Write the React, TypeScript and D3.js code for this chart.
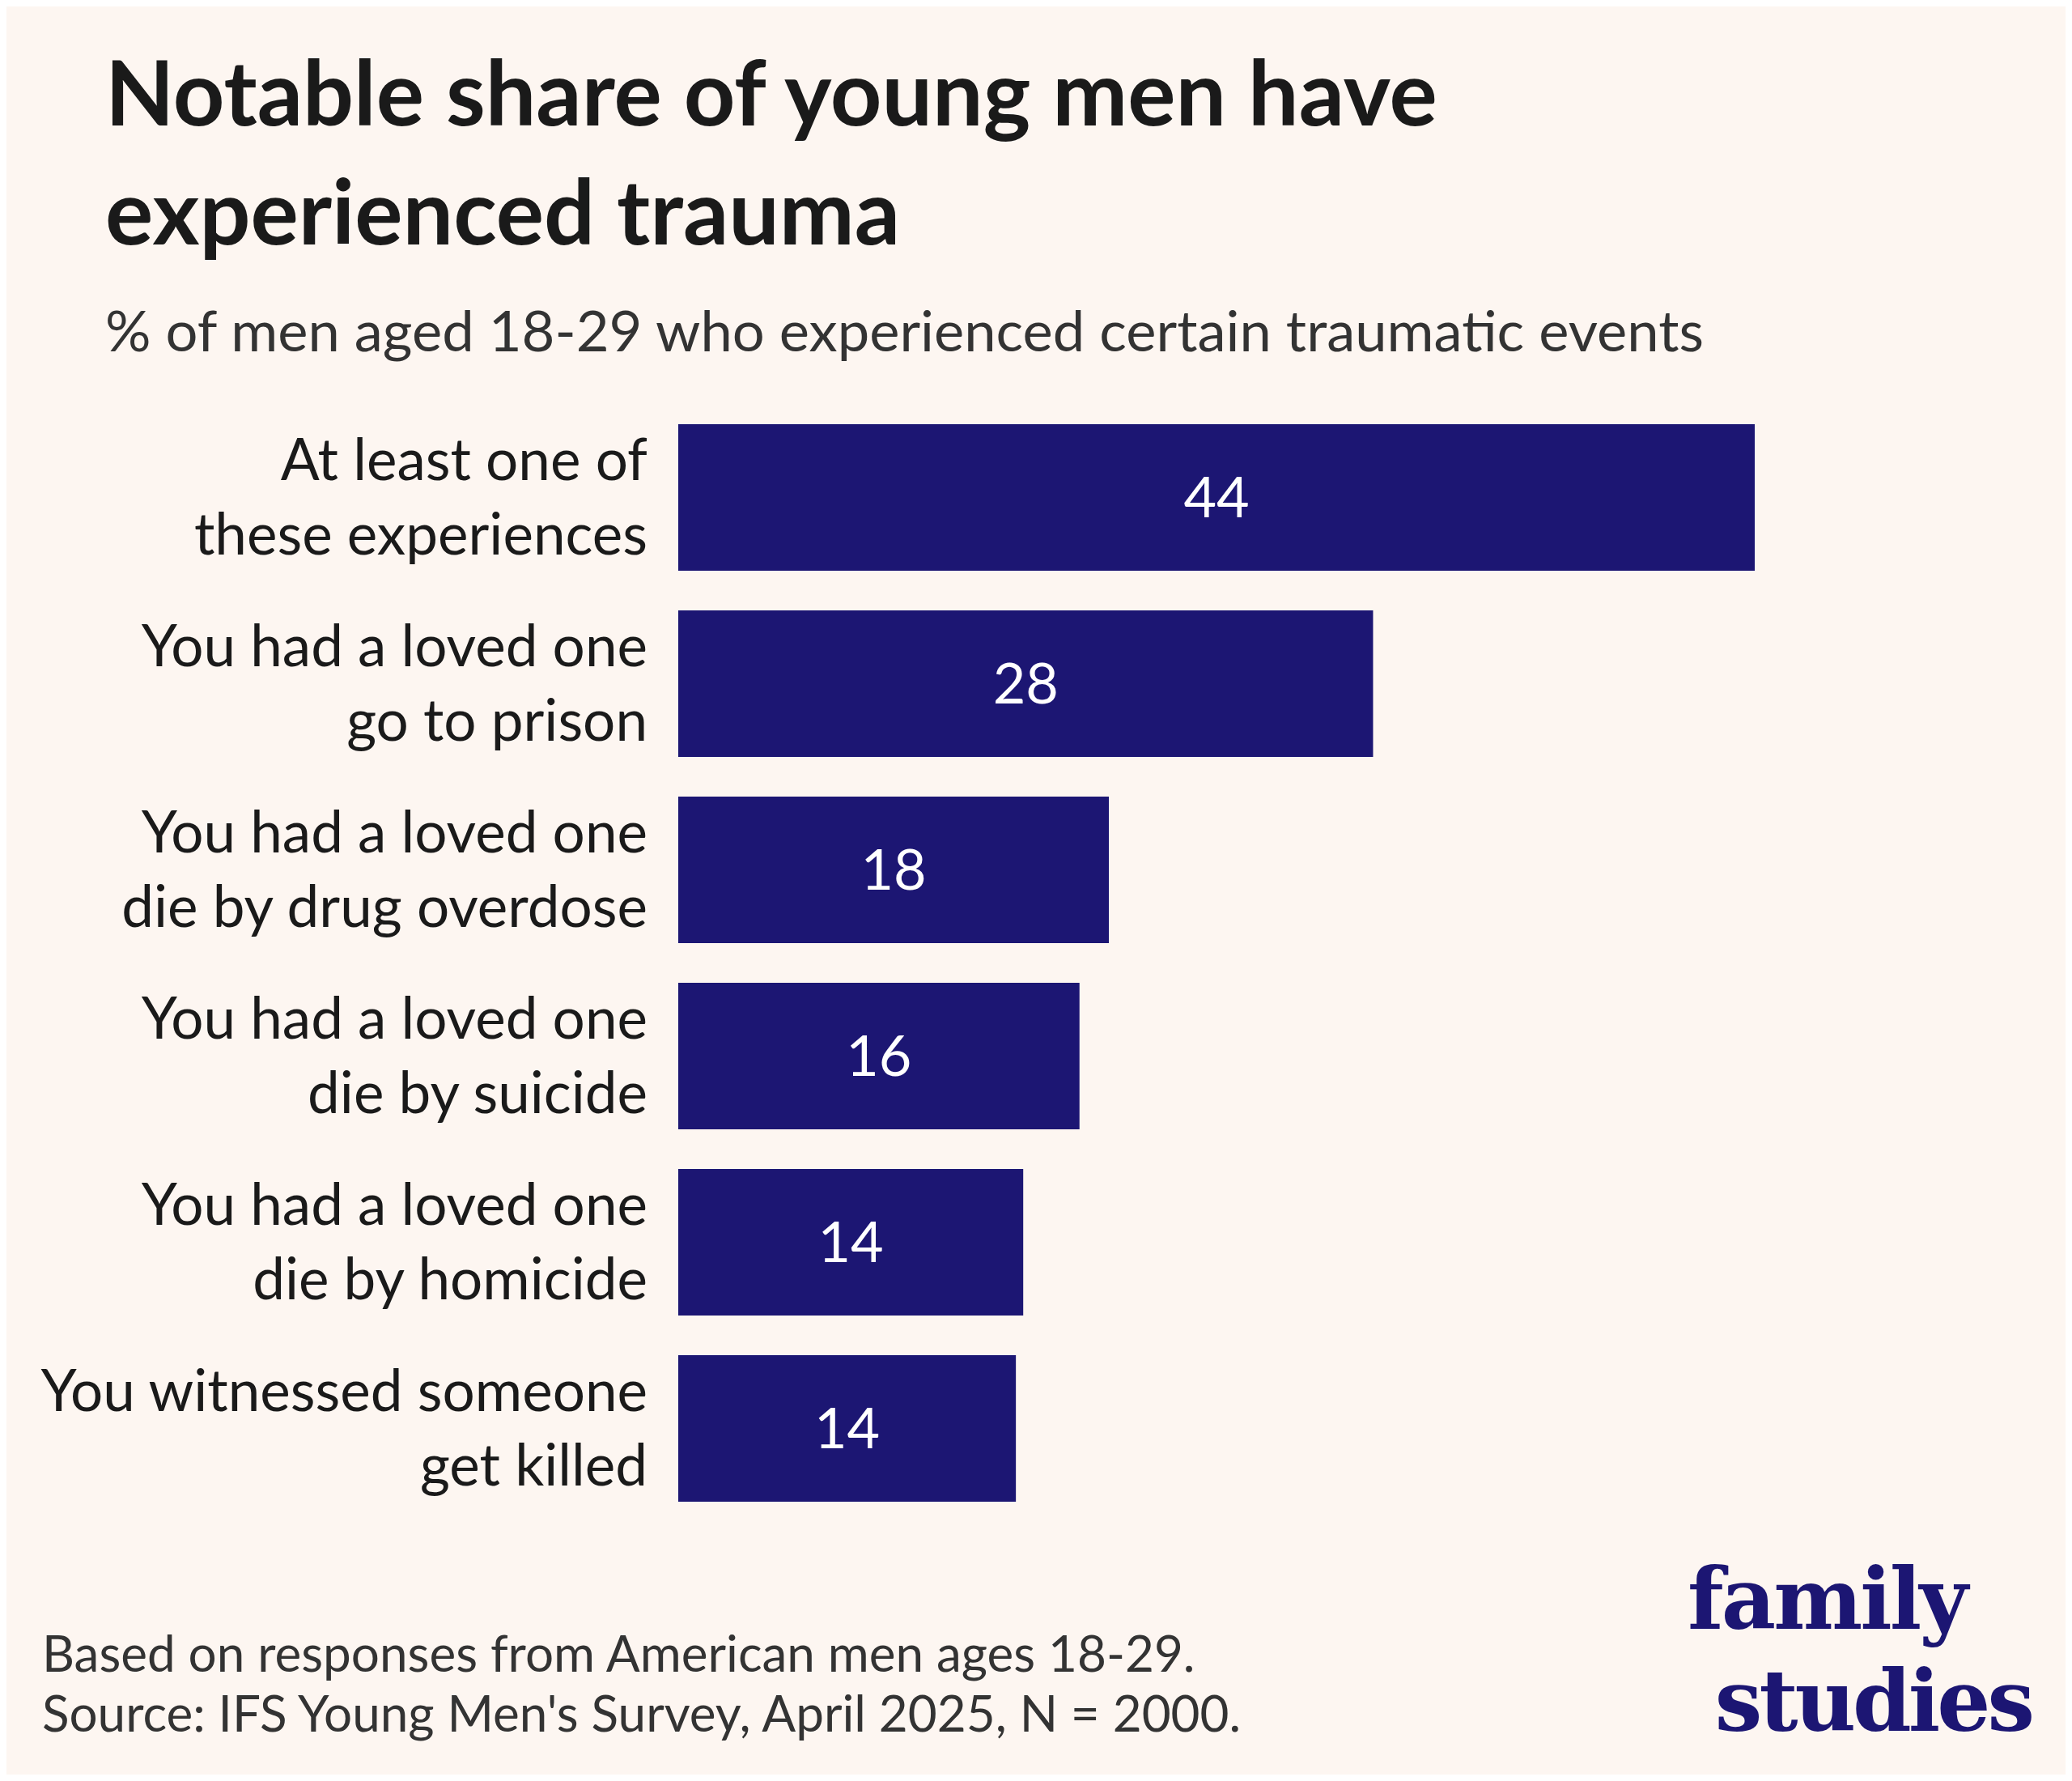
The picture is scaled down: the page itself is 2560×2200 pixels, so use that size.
import React from "react";
import * as d3 from "d3";

const categories = [
  ["At least one of", "these experiences"],
  ["You had a loved one", "go to prison"],
  ["You had a loved one", "die by drug overdose"],
  ["You had a loved one", "die by suicide"],
  ["You had a loved one", "die by homicide"],
  ["You witnessed someone", "get killed"],
];
const values = [44, 28.4, 17.6, 16.4, 14.1, 13.8];
const valueLabels = ["44", "28", "18", "16", "14", "14"];

const W = 2560;
const H = 2200;
const navy = "#1c1673";
const font = "Lato, 'Open Sans', sans-serif";

export default function App() {
  const x = d3.scaleLinear().domain([0, 44]).range([838, 2168]);
  const y = d3
    .scaleBand<number>()
    .domain(d3.range(categories.length))
    .range([524, 524 + 230 * 6 - 49])
    .paddingInner(49 / 230)
    .paddingOuter(0);
  return (
    <svg width={W} height={H} style={{ display: "block", margin: -8 }}>
      <rect width={W} height={H} fill="#fdf6f1" />
      <g fontFamily={font} fill="#1a1a1a">
        <text x={130} y={155} fontSize={111} fontWeight={700}>Notable share of young men have</text>
        <text x={130} y={302} fontSize={111} fontWeight={700}>experienced trauma</text>
        <text x={130} y={434} fontSize={70.5} fill="#333">% of men aged 18-29 who experienced certain traumatic events</text>
      </g>
      {values.map((v, i) => {
        const y0 = y(i)!;
        const bh = y.bandwidth();
        return (
          <g key={i} fontFamily={font}>
            <rect x={x(0)} y={y0} width={x(v) - x(0)} height={bh} fill={navy} />
            <text x={(x(0) + x(v)) / 2} y={y0 + bh / 2} dy="0.35em" textAnchor="middle" fill="#fff" fontSize={70}>
              {valueLabels[i]}
            </text>
            {categories[i].map((l, j) => (
              <text key={j} x={800} y={y0 + bh / 2 - 46 + j * 92} dy="0.35em" textAnchor="end" fill="#1a1a1a" fontSize={71}>
                {l}
              </text>
            ))}
          </g>
        );
      })}
      <g fontFamily={font} fill="#333" fontSize={62}>
        <text x={52} y={2065}>Based on responses from American men ages 18-29.</text>
        <text x={52} y={2139}>Source: IFS Young Men's Survey, April 2025, N = 2000.</text>
      </g>
      <g fontFamily="'DejaVu Serif', 'Liberation Serif', serif" fontWeight={700} fill={navy} fontSize={104}>
        <text x={2085} y={2012} letterSpacing={-3}>family</text>
        <text x={2510} y={2138} textAnchor="end" letterSpacing={-4}>studies</text>
      </g>
    </svg>
  );
}
